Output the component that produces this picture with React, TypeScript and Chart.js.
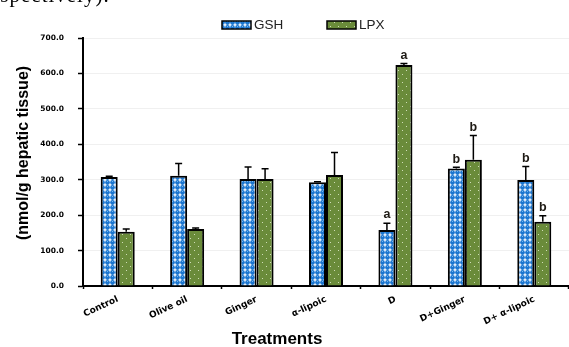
import React, { useEffect, useRef } from "react";
import { Chart, registerables } from "chart.js";

Chart.register(...registerables);

const categories = ["Control", "Olive oil", "Ginger", "α-lipoic", "D", "D+Ginger", "D+ α-lipoic"];
const gshValues = [308, 311, 302, 293, 158, 332, 299];
const gshErrors = [2, 35, 34, 1, 19, 3, 38];
const gshLetters = ["", "", "", "", "a", "b", "b"];
const lpxValues = [153, 161, 302, 313, 624, 356, 181];
const lpxErrors = [8, 3, 29, 64, 4, 69, 17];
const lpxLetters = ["", "", "", "", "a", "b", "b"];
const yTicks = [0, 100, 200, 300, 400, 500, 600, 700];
const seriesNames = ["GSH", "LPX"];
const yTitle = "(nmol/g hepatic tissue)";
const xTitle = "Treatments";

function makeGshPattern(ctx: CanvasRenderingContext2D): CanvasPattern | string {
  const c = document.createElement("canvas");
  c.width = 5;
  c.height = 5;
  const g = c.getContext("2d");
  if (!g) return "#1e78d2";
  g.fillStyle = "#ffffff";
  g.fillRect(0, 0, 5, 5);
  g.fillStyle = "#1b76d0";
  g.beginPath();
  g.arc(2.5, 2.5, 2.4, 0, Math.PI * 2);
  g.fill();
  g.fillStyle = "rgba(130,190,240,0.9)";
  g.fillRect(2, 1, 1, 1);
  return ctx.createPattern(c, "repeat") || "#1e78d2";
}

function makeLpxPattern(ctx: CanvasRenderingContext2D): CanvasPattern | string {
  const c = document.createElement("canvas");
  c.width = 8;
  c.height = 8;
  const g = c.getContext("2d");
  if (!g) return "#6b8c3a";
  g.fillStyle = "#6a8b3a";
  g.fillRect(0, 0, 8, 8);
  g.fillStyle = "rgba(225,235,205,0.85)";
  g.fillRect(2, 2, 1, 1);
  g.fillRect(6, 6, 1, 1);
  return ctx.createPattern(c, "repeat") || "#6b8c3a";
}

const errorBarPlugin = {
  id: "errorBars",
  afterDatasetsDraw(chart: any) {
    const ctx = chart.ctx;
    const yScale = chart.scales.y;
    const errs = [gshErrors, lpxErrors];
    const letters = [gshLetters, lpxLetters];
    chart.data.datasets.forEach((ds: any, di: number) => {
      const meta = chart.getDatasetMeta(di);
      meta.data.forEach((bar: any, i: number) => {
        const v = ds.data[i];
        const top = yScale.getPixelForValue(v + errs[di][i]);
        ctx.save();
        ctx.strokeStyle = "#000";
        ctx.lineWidth = 1.5;
        ctx.beginPath();
        ctx.moveTo(bar.x, bar.y);
        ctx.lineTo(bar.x, top);
        ctx.moveTo(bar.x - 3.5, top);
        ctx.lineTo(bar.x + 3.5, top);
        ctx.stroke();
        const L = letters[di][i];
        if (L) {
          ctx.fillStyle = "#1e1a14";
          ctx.font = "bold 12.5px 'Liberation Sans', Arial, sans-serif";
          ctx.textAlign = "center";
          ctx.textBaseline = "bottom";
          ctx.fillText(L, bar.x, top - 2);
        }
        ctx.restore();
      });
    });
  },
};

const decorPlugin = {
  id: "decor",
  afterDraw(chart: any) {
    const ctx = chart.ctx;
    ctx.save();
    ctx.fillStyle = "#000";
    ctx.font = "bold 16px 'Liberation Sans', Arial, sans-serif";
    ctx.textAlign = "center";
    ctx.textBaseline = "middle";
    ctx.save();
    ctx.translate(24, 153);
    ctx.rotate(-Math.PI / 2);
    ctx.fillText(yTitle, 0, 0);
    ctx.restore();
    ctx.font = "bold 17px 'Liberation Sans', Arial, sans-serif";
    ctx.fillText(xTitle, 277, 339);
    const swX = [222, 327];
    chart.data.datasets.forEach((ds: any, di: number) => {
      const x = swX[di];
      const y = 21;
      ctx.fillStyle = ds.backgroundColor;
      ctx.fillRect(x, y, 29, 8);
      ctx.strokeStyle = "#000";
      ctx.lineWidth = 1.5;
      ctx.strokeRect(x, y, 29, 8);
      ctx.fillStyle = "#222";
      ctx.font = "13.5px 'Liberation Sans', Arial, sans-serif";
      ctx.textAlign = "left";
      ctx.textBaseline = "middle";
      ctx.fillText(ds.label, x + 32, y + 4.5);
    });
    ctx.restore();
  },
};

export default function App() {
  const ref = useRef<HTMLCanvasElement | null>(null);
  useEffect(() => {
    const canvas = ref.current;
    if (!canvas) return;
    const ctx = canvas.getContext("2d");
    if (!ctx) return;
    const chart = new Chart(canvas, {
      type: "bar",
      data: {
        labels: categories,
        datasets: [
          {
            label: seriesNames[0],
            data: gshValues,
            backgroundColor: makeGshPattern(ctx) as any,
            borderColor: "#000",
            borderWidth: 2,
            categoryPercentage: 0.49,
            barPercentage: 1,
          },
          {
            label: seriesNames[1],
            data: lpxValues,
            backgroundColor: makeLpxPattern(ctx) as any,
            borderColor: "#000",
            borderWidth: 2,
            categoryPercentage: 0.49,
            barPercentage: 1,
          },
        ],
      },
      options: {
        responsive: false,
        animation: false,
        devicePixelRatio: 1,
        layout: { padding: { top: 38, right: 0, left: 0, bottom: 0 } },
        plugins: {
          legend: { display: false },
          tooltip: { enabled: false },
        },
        scales: {
          x: {
            offset: true,
            grid: {
              display: true,
              drawOnChartArea: false,
              offset: true,
              tickLength: 3,
              tickColor: "#000",
              tickWidth: 1.5,
            },
            border: { color: "#000", width: 2 },
            ticks: {
              color: "#000",
              font: { family: "'DejaVu Sans', sans-serif", weight: "bold", size: 9 },
              minRotation: 25,
              maxRotation: 25,
              padding: 5,
              autoSkip: false,
            },
            afterFit(scale: any) {
              scale.height = 61;
            },
          },
          y: {
            min: 0,
            max: 700,
            afterBuildTicks(scale: any) {
              scale.ticks = yTicks.map((v) => ({ value: v }));
            },
            grid: {
              color: "#f0f0f0",
              lineWidth: 1,
              tickLength: 5,
              tickColor: "#000",
              tickWidth: 1.5,
            },
            border: { color: "#000", width: 2 },
            ticks: {
              color: "#000",
              font: { family: "'DejaVu Sans', sans-serif", weight: "bold", size: 7.5 },
              padding: 14,
              callback: (v: any) => Number(v).toFixed(1),
            },
            afterFit(scale: any) {
              scale.width = 83;
            },
          },
        },
      },
      plugins: [errorBarPlugin, decorPlugin],
    });
    return () => chart.destroy();
  }, []);

  return (
    <div style={{ position: "absolute", left: 0, top: 0, width: 569, height: 347, overflow: "hidden", background: "#fff" }}>
      <canvas ref={ref} width={569} height={347} style={{ position: "absolute", left: 0, top: 0, width: 569, height: 347 }} />
      <div
        style={{
          position: "absolute",
          left: -18,
          top: -15,
          fontFamily: "'Liberation Serif', serif",
          fontSize: 21,
          lineHeight: 1,
          letterSpacing: 1,
          whiteSpace: "nowrap",
          color: "#000",
        }}
      >
        respectively).
      </div>
    </div>
  );
}
